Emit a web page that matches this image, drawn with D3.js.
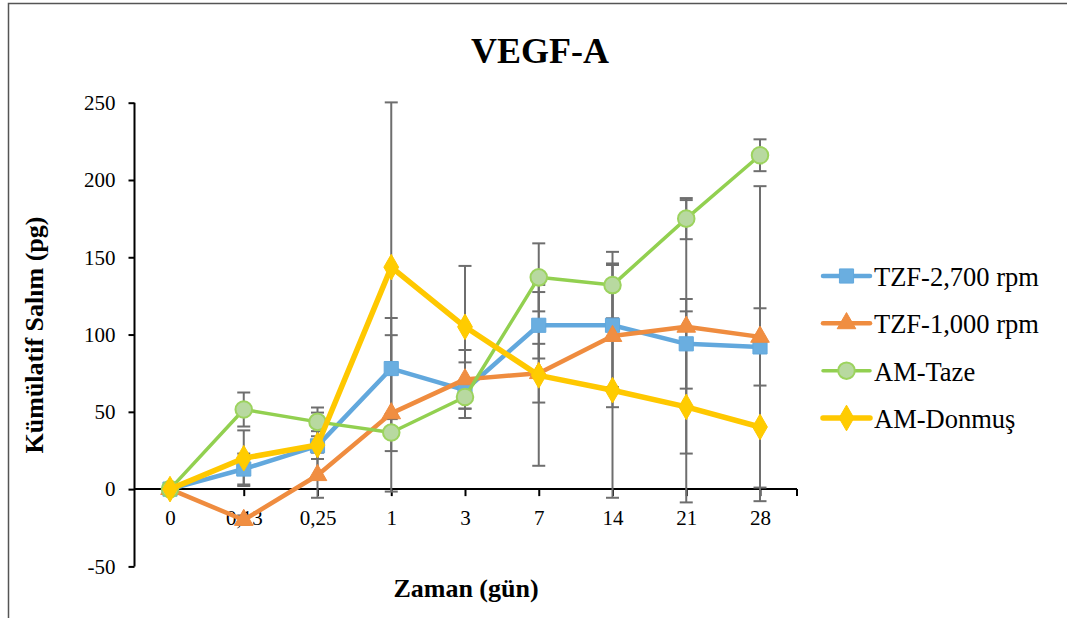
<!DOCTYPE html>
<html>
<head>
<meta charset="utf-8">
<script src="https://cdn.jsdelivr.net/npm/d3@7"></script>
<style>
  html, body { margin: 0; padding: 0; background: #fff; }
  svg { display: block; }
</style>
</head>
<body>
<svg id="chart" width="1067" height="618"></svg>
<script>
// Sampling days (category labels on the x axis)
const categories = ["0", "0,13", "0,25", "1", "3", "7", "14", "21", "28"];

// Cumulative VEGF-A release (pg) per group, with error bar half-widths
const tzf2700    = [0, 13, 28, 78, 64, 106, 106, 94, 92];
const tzf2700Err = [0, 10, 21.5, 32.7, 18, 21.5, 40, 29, 25];

const tzf1000    = [0, -20, 9, 49, 71, 75, 99, 105, 98.5];
const tzf1000Err = [0, 3, 14.6, 50.6, 19, 19, 46, 82, 97.5];

const amTaze     = [0, 51.5, 43.5, 36.6, 59.6, 137, 132, 175, 216];
const amTazeErr  = [0, 11, 9.3, 12, 7.5, 22, 21.5, 13.3, 10.3];

const amDonmus    = [0, 20, 28.5, 143.6, 105, 73.6, 64, 53.2, 40.2];
const amDonmusErr = [0, 18, 9, 106.6, 39.4, 58.5, 69.6, 61.8, 48];

const yTicks = [-50, 0, 50, 100, 150, 200, 250];

const seriesNames = ["TZF-2,700 rpm", "TZF-1,000 rpm", "AM-Taze", "AM-Donmuş"];

const FONT = "'Liberation Serif', 'Times New Roman', Times, 'DejaVu Serif', serif";

const series = [
  { name: seriesNames[0], values: tzf2700,  err: tzf2700Err,  color: "#62A8DD", fill: "#6AAEE0", stroke: "#62A8DD", width: 4.5, shape: "square" },
  { name: seriesNames[1], values: tzf1000,  err: tzf1000Err,  color: "#EF8C3F", fill: "#F08E42", stroke: "#EF8C3F", width: 4.5, shape: "triangle" },
  { name: seriesNames[2], values: amTaze,   err: amTazeErr,   color: "#92D050", fill: "#B8D9A0", stroke: "#9CD35E", width: 3.5, shape: "circle" },
  { name: seriesNames[3], values: amDonmus, err: amDonmusErr, color: "#FFC800", fill: "#FFCC00", stroke: "#FFC800", width: 5.5, shape: "diamond" }
];

const svg = d3.select("#chart").attr("font-family", FONT);

// outer frame
svg.append("path")
  .attr("d", "M8.5,618 L8.5,3.5 L1067,3.5")
  .attr("fill", "none").attr("stroke", "#555").attr("stroke-width", 1.5);

const x = d3.scalePoint().domain(categories).range([170, 760]);
const y = d3.scaleLinear().domain([-50, 250]).range([566.4, 102.7]);

const axisLeftX = 134.5;
const axisRightX = 797;

// Title
svg.append("text")
  .attr("x", 540).attr("y", 63)
  .attr("text-anchor", "middle")
  .attr("font-family", FONT).attr("font-size", 36).attr("font-weight", "bold")
  .text("VEGF-A");

// Y axis
const yAxis = d3.axisLeft(y).tickValues(yTicks).tickSize(6).tickPadding(13).tickFormat(d => String(d));
const gy = svg.append("g").attr("transform", `translate(${axisLeftX},0)`).call(yAxis)
  .attr("font-family", FONT).attr("font-size", 21);
gy.select(".domain").attr("stroke", "#000").attr("stroke-width", 2).attr("d", `M0,${y(250)}V${y(-50)}`);
gy.selectAll(".tick line").attr("stroke", "#000").attr("stroke-width", 2);
gy.selectAll(".tick text").attr("fill", "#000");

// X axis along zero
const y0 = y(0);
const xAxis = d3.axisBottom(x).tickSize(7).tickPadding(14);
const gx = svg.append("g").attr("transform", `translate(0,${y0})`).call(xAxis)
  .attr("font-family", FONT).attr("font-size", 21);
gx.select(".domain").attr("stroke", "#000").attr("stroke-width", 2).attr("d", `M${axisLeftX},0H${axisRightX}`);
gx.selectAll(".tick line").attr("stroke", "#000").attr("stroke-width", 2);
gx.selectAll(".tick text").attr("fill", "#000");
gx.append("line").attr("x1", axisRightX).attr("x2", axisRightX).attr("y1", 0).attr("y2", 7)
  .attr("stroke", "#000").attr("stroke-width", 2);

// Axis titles
svg.append("text")
  .attr("x", 466).attr("y", 597)
  .attr("text-anchor", "middle")
  .attr("font-family", FONT).attr("font-size", 26).attr("font-weight", "bold")
  .text("Zaman (gün)");

svg.append("text")
  .attr("transform", `translate(43,335) rotate(-90)`)
  .attr("text-anchor", "middle")
  .attr("font-family", FONT).attr("font-size", 26).attr("font-weight", "bold")
  .text("Kümülatif Salım (pg)");

// Error bars
const errG = svg.append("g");
series.forEach(s => {
  s.values.forEach((v, i) => {
    const e = s.err[i];
    if (!e) return;
    const cx = x(categories[i]);
    const top = y(v + e), bot = y(v - e);
    errG.append("line").attr("x1", cx).attr("x2", cx).attr("y1", top).attr("y2", bot)
      .attr("stroke", "#6E6E6E").attr("stroke-width", 2);
    [top, bot].forEach(yy => errG.append("line")
      .attr("x1", cx - 6.5).attr("x2", cx + 6.5).attr("y1", yy).attr("y2", yy)
      .attr("stroke", "#6E6E6E").attr("stroke-width", 2));
  });
});

const symbolFor = shape => ({
  square: d3.symbol().type(d3.symbolSquare).size(200),
  triangle: d3.symbol().type(d3.symbolTriangle).size(150),
  circle: d3.symbol().type(d3.symbolCircle).size(215),
  diamond: d3.symbol().type(d3.symbolDiamond).size(190)
}[shape]);

// Lines and markers
const line = d3.line().x((d, i) => x(categories[i])).y(d => y(d));
series.forEach(s => {
  svg.append("path").datum(s.values)
    .attr("d", line).attr("fill", "none")
    .attr("stroke", s.color).attr("stroke-width", s.width)
    .attr("stroke-linejoin", "round");
  svg.append("g").selectAll("path").data(s.values).join("path")
    .attr("transform", (d, i) => `translate(${x(categories[i])},${y(d)})`)
    .attr("d", symbolFor(s.shape)())
    .attr("fill", s.fill)
    .attr("stroke", s.stroke).attr("stroke-width", s.shape === "circle" ? 2 : 1);
});

// Legend
const legend = svg.append("g");
const legendY = d3.scalePoint().domain(seriesNames).range([276, 418]);
series.forEach(s => {
  const ly = legendY(s.name);
  legend.append("line").attr("x1", 823).attr("x2", 870).attr("y1", ly).attr("y2", ly)
    .attr("stroke", s.color).attr("stroke-width", s.width).attr("stroke-linecap", "round");
  legend.append("path").attr("transform", `translate(846.5,${ly})`)
    .attr("d", symbolFor(s.shape)())
    .attr("fill", s.fill).attr("stroke", s.stroke).attr("stroke-width", s.shape === "circle" ? 2 : 1);
  legend.append("text").attr("x", 874).attr("y", ly + 10)
    .attr("font-family", FONT).attr("font-size", 26.5).text(s.name);
});
</script>
</body>
</html>
